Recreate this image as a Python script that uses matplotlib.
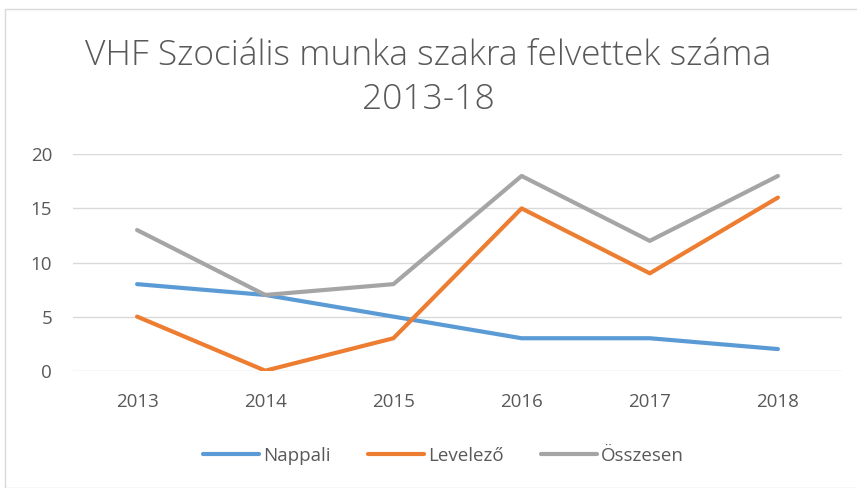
# VHF Szociális munka felvettek 2013-18
import matplotlib
matplotlib.use("Agg")
import matplotlib.pyplot as plt
from matplotlib.patches import Rectangle

years = ["2013", "2014", "2015", "2016", "2017", "2018"]
nappali = [8, 7, 5, 3, 3, 2]
levelezo = [5, 0, 3, 15, 9, 16]
osszesen = [13, 7, 8, 18, 12, 18]
yticks = [0, 5, 10, 15, 20]

plt.rcParams["font.family"] = ["Open Sans", "DejaVu Sans"]
txt = "#595959"

fig = plt.figure(figsize=(8.57, 4.88), dpi=100)
fig.patches.append(Rectangle((5/857, 0), 1, 1 - 9/488, transform=fig.transFigure,
                             fill=False, edgecolor="#D9D9D9", linewidth=1))

ax = fig.add_axes([73/857, 117.3/488, 769/857, 216.4/488])
x = range(len(years))
for y in yticks:
    ax.axhline(y, color="#D9D9D9", linewidth=1, zorder=0)
ax.plot(x, nappali, color="#5B9BD5", lw=3, solid_capstyle="round", label="Nappali")
ax.plot(x, levelezo, color="#ED7D31", lw=3, solid_capstyle="round", label="Levelező")
ax.plot(x, osszesen, color="#A5A5A5", lw=3, solid_capstyle="round", label="Összesen")

ax.set_xlim(-0.5, len(years) - 0.5)
ax.set_ylim(0, 20)
ax.set_xticks(list(x))
ax.set_xticklabels(years)
ax.set_yticks(yticks)
ax.tick_params(length=0, labelsize=13.5, colors=txt, pad=16)
ax.tick_params(axis="y", pad=15)
for s in ax.spines.values():
    s.set_visible(False)

fig.text(0.5, 1 - 56/488, "VHF Szociális munka szakra felvettek száma",
         ha="center", va="center", fontsize=25.5, color=txt, fontweight="light")
fig.text(0.5, 1 - 100/488, "2013-18",
         ha="center", va="center", fontsize=25.5, color=txt, fontweight="light")

fig.legend(loc="center", bbox_to_anchor=(0.5 + 15/857, 1 - 456/488), ncol=3,
           frameon=False, fontsize=13.5, labelcolor=txt, handlelength=3,
           handletextpad=0.2, columnspacing=2.0)

fig.savefig("out.png", dpi=100)
